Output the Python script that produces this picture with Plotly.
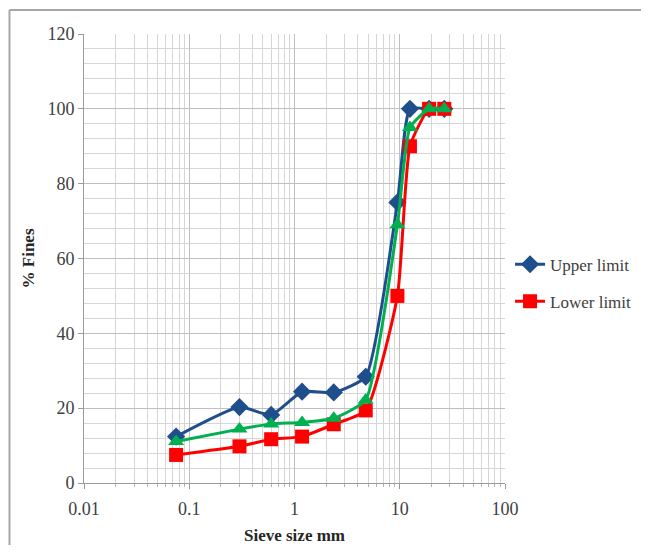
import plotly.graph_objects as go

sieve_sizes = [0.075, 0.3, 0.6, 1.18, 2.36, 4.75, 9.5, 12.5, 19, 26.5]
upper_limit = [12.4, 20.3, 18.2, 24.4, 24.2, 28.4, 75, 100, 100, 100]
lower_limit = [7.5, 9.8, 11.7, 12.4, 15.7, 19.4, 50, 90, 100, 100]
blend = [11.1, 14.4, 15.8, 16.2, 17.3, 22.2, 69, 95, 100, 100]

x_ticks = [0.01, 0.1, 1, 10, 100]
x_tick_labels = ["0.01", "0.1", "1", "10", "100"]
y_ticks = [0, 20, 40, 60, 80, 100, 120]

font_family = "Liberation Serif, Times New Roman, serif"

fig = go.Figure()
fig.add_trace(go.Scatter(
    x=sieve_sizes, y=upper_limit, name="Upper limit", mode="lines+markers",
    line=dict(color="#1F4E8C", width=3, shape="spline", smoothing=0.5),
    marker=dict(symbol="diamond", size=14, color="#1F4E8C"),
    legendgroup="u"))
fig.add_trace(go.Scatter(
    x=sieve_sizes, y=lower_limit, name="Lower limit", mode="lines+markers",
    line=dict(color="#FF0000", width=3, shape="spline", smoothing=0.5),
    marker=dict(symbol="square", size=14, color="#FF0000"),
    legendgroup="l"))
fig.add_trace(go.Scatter(
    x=sieve_sizes, y=blend, name="Blend", mode="lines+markers",
    line=dict(color="#00B050", width=3, shape="spline", smoothing=0.5),
    marker=dict(symbol="triangle-up", size=14, color="#00B050"),
    showlegend=False))

border = dict(color="#A6A6A6", width=2)
fig.update_layout(
    width=641, height=537,
    margin=dict(l=76, r=141, t=26, b=62),
    paper_bgcolor="white", plot_bgcolor="white",
    font=dict(family=font_family, size=18, color="#404040"),
    showlegend=True,
    legend=dict(x=1.012, y=0.445, xanchor="left", yanchor="middle",
                font=dict(family=font_family, size=17, color="#404040"),
                tracegroupgap=12, traceorder="grouped",
                bgcolor="rgba(0,0,0,0)"),
    shapes=[
        dict(type="line", xref="paper", yref="paper", x0=-0.177, x1=1.4,
             y0=1.0535, y1=1.0535, line=border, layer="below"),
        dict(type="line", xref="paper", yref="paper", x0=-0.177, x1=-0.177,
             y0=-0.16, y1=1.0535, line=border, layer="below"),
    ],
)

fig.update_xaxes(
    type="log", range=[-2, 2], automargin=False,
    tickvals=x_ticks, ticktext=x_tick_labels,
    showgrid=True, gridcolor="#BFBFBF", gridwidth=1,
    showline=True, linecolor="#9A9A9A", linewidth=1,
    ticks="outside", ticklen=5, tickcolor="#9A9A9A",
    ticklabelstandoff=4,
    minor=dict(dtick="D1", showgrid=True, gridcolor="#D6D6D6", gridwidth=1,
               ticks="outside", ticklen=3, tickcolor="#B0B0B0"),
    zeroline=False, mirror=False,
    tickfont=dict(family=font_family, size=18, color="#404040"),
    title=dict(text="<b>Sieve size mm</b>", standoff=16,
               font=dict(family=font_family, size=17, color="#262626")),
)
fig.update_yaxes(
    range=[0, 120], tickvals=y_ticks, automargin=False,
    showgrid=True, gridcolor="#BFBFBF", gridwidth=1,
    showline=True, linecolor="#9A9A9A", linewidth=1,
    ticks="outside", ticklen=5, tickcolor="#9A9A9A",
    minor=dict(dtick=4, showgrid=True, gridcolor="#D6D6D6", gridwidth=1),
    zeroline=False,
    tickfont=dict(family=font_family, size=18, color="#404040"),
    title=dict(text="<b>% Fines</b>", standoff=8,
               font=dict(family=font_family, size=17, color="#262626")),
)

fig.write_html("out.html")
